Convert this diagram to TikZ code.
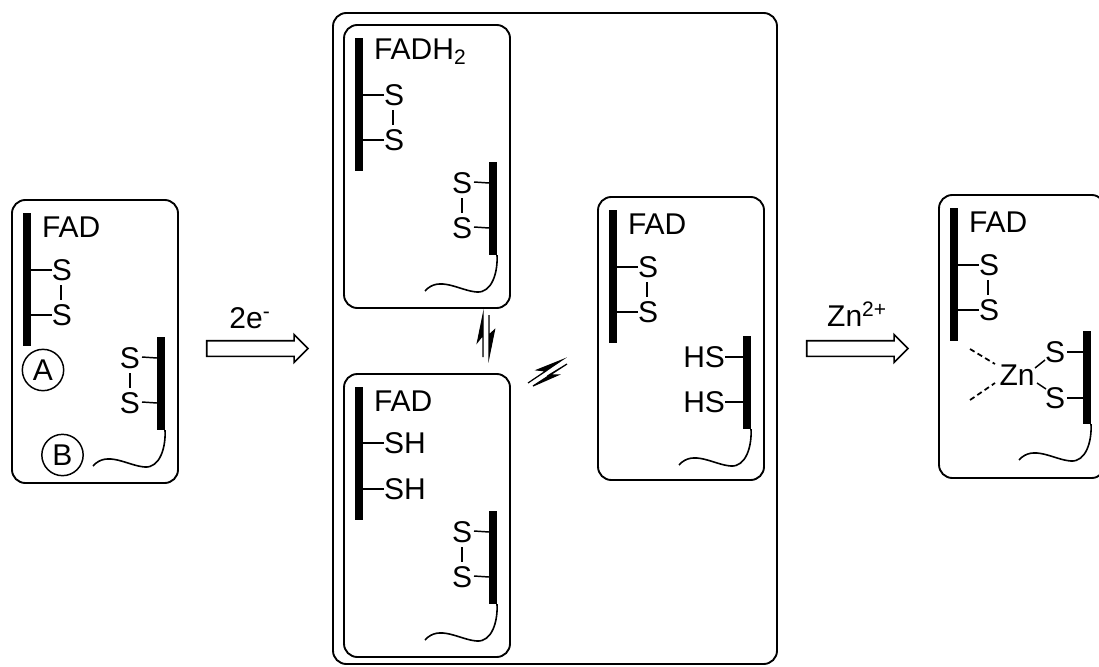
\documentclass[tikz,border=0pt]{standalone}
\usepackage{fontspec}
\setmainfont{Liberation Sans}
\usetikzlibrary{shapes.arrows}
\tikzset{
  x=0.75pt,y=-0.75pt,
  panelbox/.style={draw=black,line width=1.4pt,rounded corners=10pt},
  strand/.style={fill=black,draw=none,minimum width=6pt,inner sep=0pt,outer sep=0pt},
  atom/.style={inner sep=0pt,outer sep=0pt,font=\fontsize{22.5}{22.5}\selectfont},
  tag/.style={inner sep=0pt,outer sep=0pt,anchor=west,font=\fontsize{22.5}{22.5}\selectfont},
  bond/.style={draw=black,line width=1.1pt},
  dashbond/.style={draw=black,line width=1.3pt,dash pattern=on 4pt off 2.6pt},
  tailline/.style={draw=black,line width=1.2pt},
  ring/.style={draw=black,line width=1.1pt,circle,minimum size=31pt,inner sep=0pt,font=\fontsize{22.5}{22.5}\selectfont},
  blockarrow/.style={draw=black,fill=white,line width=1.2pt,single arrow,minimum height=76pt,single arrow head extend=4.6pt,inner sep=0pt,single arrow tip angle=90},
  harpoon/.style={fill=black,draw=black,line width=0.9pt,line join=miter}
}
% box and long strand; #1 prefix, #2 x shift, #3 y shift, #4 label
\newcommand\panelframe[4]{%
  \begin{scope}[shift={(#2,#3)},name prefix=#1]
    \draw[panelbox] (12,200) rectangle (178,483);
    \node[strand,minimum height=100pt] (bar) at (27,279.5) {};
    \node[tag] (lab) at (42,227) {#4};
  \end{scope}}
% left cluster with S-S
\newcommand\leftss[3]{%
  \begin{scope}[shift={(#2,#3)},name prefix=#1]
    \node[atom] (a) at (62,270) {S};
    \node[atom] (b) at (62,315) {S};
    \draw[bond] (a.west) -- (a.west -| bar.east);
    \draw[bond] (b.west) -- (b.west -| bar.east);
    \draw[bond] (a) ++(-1,15) -- ++(0,15);
  \end{scope}}
% short strand with tail; positions relative to panel one
\newcommand\shortbar[3]{%
  \begin{scope}[shift={(#2,#3)},name prefix=#1]
    \node[strand,minimum height=70pt] (rbar) at (161,383.5) {};
    \draw[tailline] (rbar.south east) .. controls (166,447) and (160,468) .. (145,467)
       .. controls (128,466) and (107,450) .. (93,466);
  \end{scope}}
\newcommand\rightss[3]{%
  \begin{scope}[shift={(#2,#3)},name prefix=#1]
    \node[atom] (c) at (130,358) {S};
    \node[atom] (d) at (130,403) {S};
    \draw[bond] (c.east) ++(2,-1) -- (c.east -| rbar.west);
    \draw[bond] (d.east) ++(2,-1) -- (d.east -| rbar.west);
    \draw[bond] (c) ++(0,15) -- ++(0,15);
  \end{scope}}
\begin{document}
\begin{tikzpicture}
\useasboundingbox (0,0) rectangle (1099,667);
% outer box
\node[panelbox,minimum width=333pt,minimum height=488.25pt,inner sep=0pt] (outer) at (555,338.5) {};
% panel 1
\panelframe{p}{0}{0}{FAD}
\leftss{p}{0}{0}
\shortbar{p}{0}{0}
\rightss{p}{0}{0}
\node[ring] (A) at (43,370) {A};
\node[ring] (B) at (62.5,455) {B};
% panel 2
\panelframe{q}{332}{-175}{FADH\textsubscript{2}}
\leftss{q}{332}{-175}
\shortbar{q}{332}{-175}
\rightss{q}{332}{-175}
% panel 3
\panelframe{r}{332}{174}{FAD}
\begin{scope}[name prefix=r]
  \node[atom,anchor=west] (a) at (384,443) {SH};
  \node[atom,anchor=west] (b) at (384,489) {SH};
  \draw[bond] (a.west) -- (a.west -| bar.east);
  \draw[bond] (b.west) -- (b.west -| bar.east);
\end{scope}
\shortbar{r}{332}{174}
\rightss{r}{332}{174}
% panel 4
\panelframe{s}{586}{-3}{FAD}
\leftss{s}{586}{-3}
\shortbar{s}{586}{-1}
\begin{scope}[name prefix=s]
  \node[atom,anchor=east] (c) at (725,357) {HS};
  \node[atom,anchor=east] (d) at (725,402) {HS};
  \draw[bond] (c.east) -- (c.east -| rbar.west);
  \draw[bond] (d.east) -- (d.east -| rbar.west);
\end{scope}
% panel 5
\panelframe{t}{927}{-5}{FAD}
\leftss{t}{927}{-5}
\shortbar{t}{926}{-6}
\begin{scope}[name prefix=t]
  \node[atom] (zn) at (1017,375) {Zn};
  \node[atom] (c) at (1055,352) {S};
  \node[atom] (d) at (1055,398) {S};
  \draw[bond] (c.east) ++(2,0) -- (c.east -| rbar.west);
  \draw[bond] (d.east) ++(2,0) -- (d.east -| rbar.west);
  \path (zn) ++(18,-7) coordinate (zc);
  \path (c) ++(-10,8) coordinate (cz);
  \path (zn) ++(20,8) coordinate (zd);
  \path (d) ++(-9,-9) coordinate (dz);
  \draw[bond] (zc) -- (cz);
  \draw[bond] (zd) -- (dz);
  \coordinate (l1) at (970,349);
  \coordinate (l2) at (970,400);
  \path (zn) ++(-22,-11) coordinate (zl1);
  \path (zn) ++(-22,8) coordinate (zl2);
  \draw[dashbond] (l1) -- (zl1);
  \draw[dashbond] (l2) -- (zl2);
\end{scope}
% reaction arrows
\node[blockarrow] (ar1) at (253.5,348.5) {\rule{0pt}{10.5pt}};
\node[atom] (e2) at (250,318) {2e\textsuperscript{-}};
\node[blockarrow] (ar2) at (853.5,348.5) {\rule{0pt}{10.5pt}};
\node[atom] (zn2) at (857,314) {Zn\textsuperscript{2+}};
% vertical equilibrium
\draw[harpoon] (483,357) -- (483,315) -- (477.5,342) -- (483,335) -- cycle;
\draw[harpoon] (489,315) -- (489,357) -- (494.5,330) -- (489,335) -- cycle;
% diagonal equilibrium
\draw[harpoon] (528,383) -- (562,360) -- (537,370) -- (546,371) -- cycle;
\draw[harpoon] (567,364) -- (533,386) -- (558,375) -- (549,375) -- cycle;
\end{tikzpicture}
\end{document}
